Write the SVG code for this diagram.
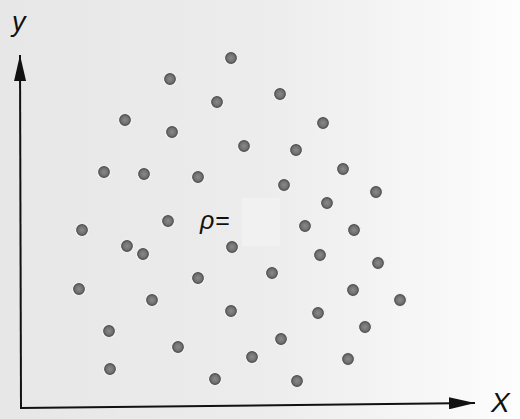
<svg xmlns="http://www.w3.org/2000/svg" width="520" height="419" viewBox="0 0 520 419">
<defs>
<linearGradient id="bg" x1="0" y1="0" x2="1" y2="0">
<stop offset="0" stop-color="#e7e7e7"/>
<stop offset="0.5" stop-color="#ececec"/>
<stop offset="0.8" stop-color="#f6f6f6"/>
<stop offset="1" stop-color="#fdfdfd"/>
</linearGradient>
<radialGradient id="dotfill" cx="0.5" cy="0.5" r="0.5">
<stop offset="0" stop-color="#8a8a8a"/>
<stop offset="0.6" stop-color="#707070"/>
<stop offset="1" stop-color="#383838"/>
</radialGradient>
<marker id="arrow" viewBox="0 0 26 12" refX="26" refY="6" markerWidth="26" markerHeight="12" markerUnits="userSpaceOnUse" orient="auto">
<path d="M0,0 L26,6 L0,12 Z" fill="#111"/>
</marker>
</defs>
<style>
.dot{fill:url(#dotfill);stroke:#f6f6f6;stroke-width:1.2}
.axis{stroke:#111;stroke-width:2;fill:none}
.lbl{font-family:"Liberation Sans",Arial,sans-serif;font-style:italic;fill:#111}
</style>
<rect width="520" height="419" fill="url(#bg)"/>
<rect x="242" y="198" width="38" height="48" fill="#f1f1f1"/>
<g id="connectors">
<path class="axis" d="M21,408 L20,55" marker-end="url(#arrow)"/>
<path class="axis" d="M20,408 L475,403" marker-end="url(#arrow)"/>
</g>
<g id="labels">
<text class="lbl" x="12" y="31" font-size="27">y</text>
<text class="lbl" x="491" y="412" font-size="28">X</text>
<text class="lbl" x="200" y="229" font-size="25"><tspan>ρ</tspan><tspan font-style="normal" dx="1">=</tspan></text>
</g>
<g id="dots">
<circle class="dot" cx="231" cy="58" r="6.5"/>
<circle class="dot" cx="170" cy="79" r="6.5"/>
<circle class="dot" cx="280" cy="94" r="6.5"/>
<circle class="dot" cx="217" cy="102" r="6.5"/>
<circle class="dot" cx="125" cy="120" r="6.5"/>
<circle class="dot" cx="172" cy="132" r="6.5"/>
<circle class="dot" cx="323" cy="123" r="6.5"/>
<circle class="dot" cx="244" cy="146" r="6.5"/>
<circle class="dot" cx="296" cy="150" r="6.5"/>
<circle class="dot" cx="104" cy="172" r="6.5"/>
<circle class="dot" cx="144" cy="174" r="6.5"/>
<circle class="dot" cx="198" cy="177" r="6.5"/>
<circle class="dot" cx="343" cy="169" r="6.5"/>
<circle class="dot" cx="284" cy="185" r="6.5"/>
<circle class="dot" cx="376" cy="192" r="6.5"/>
<circle class="dot" cx="327" cy="203" r="6.5"/>
<circle class="dot" cx="168" cy="221" r="6.5"/>
<circle class="dot" cx="82" cy="230" r="6.5"/>
<circle class="dot" cx="305" cy="226" r="6.5"/>
<circle class="dot" cx="354" cy="230" r="6.5"/>
<circle class="dot" cx="127" cy="246" r="6.5"/>
<circle class="dot" cx="143" cy="254" r="6.5"/>
<circle class="dot" cx="232" cy="247" r="6.5"/>
<circle class="dot" cx="320" cy="255" r="6.5"/>
<circle class="dot" cx="378" cy="263" r="6.5"/>
<circle class="dot" cx="198" cy="278" r="6.5"/>
<circle class="dot" cx="272" cy="273" r="6.5"/>
<circle class="dot" cx="79" cy="289" r="6.5"/>
<circle class="dot" cx="152" cy="300" r="6.5"/>
<circle class="dot" cx="353" cy="290" r="6.5"/>
<circle class="dot" cx="400" cy="300" r="6.5"/>
<circle class="dot" cx="231" cy="311" r="6.5"/>
<circle class="dot" cx="318" cy="313" r="6.5"/>
<circle class="dot" cx="109" cy="331" r="6.5"/>
<circle class="dot" cx="365" cy="327" r="6.5"/>
<circle class="dot" cx="281" cy="339" r="6.5"/>
<circle class="dot" cx="178" cy="347" r="6.5"/>
<circle class="dot" cx="252" cy="357" r="6.5"/>
<circle class="dot" cx="348" cy="359" r="6.5"/>
<circle class="dot" cx="110" cy="369" r="6.5"/>
<circle class="dot" cx="215" cy="379" r="6.5"/>
<circle class="dot" cx="297" cy="381" r="6.5"/>
</g>
</svg>
